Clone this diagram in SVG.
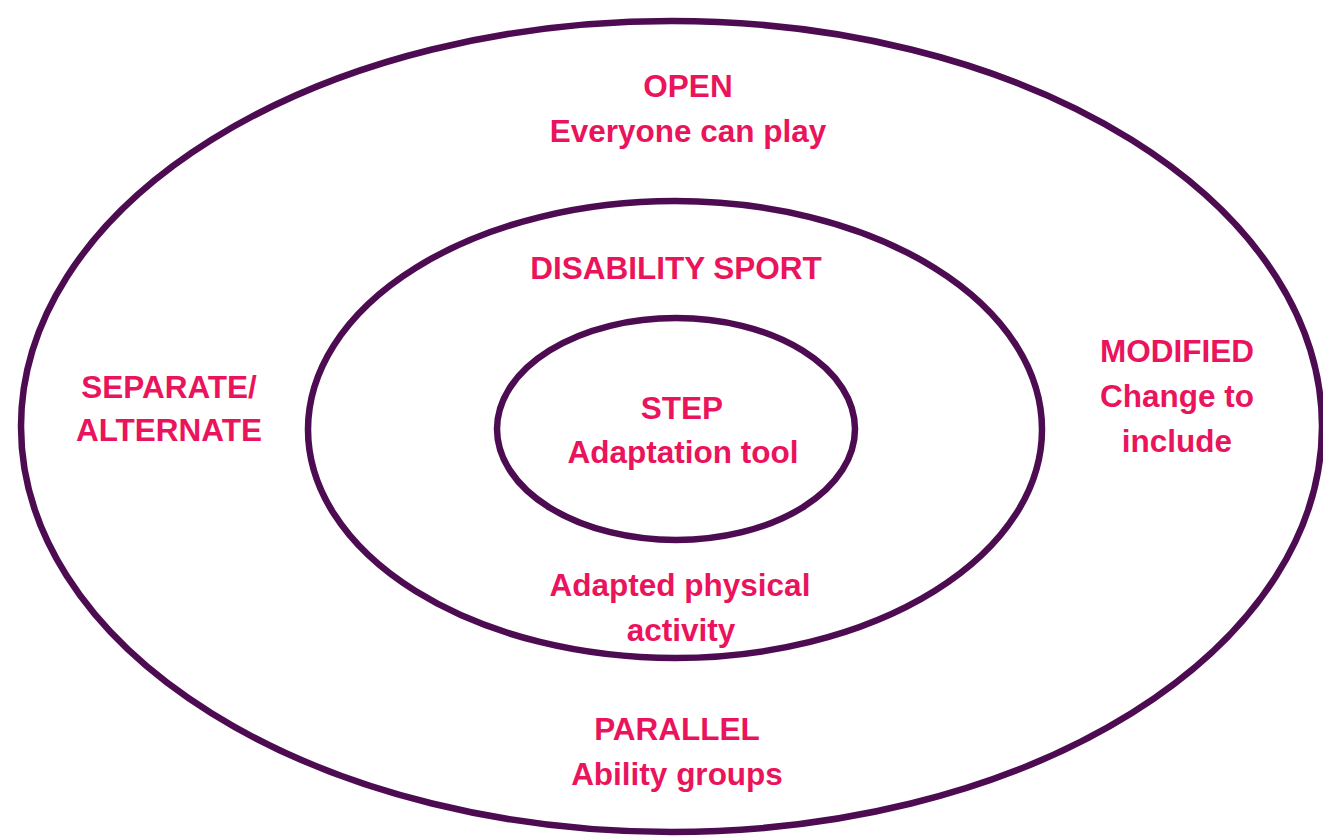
<svg xmlns="http://www.w3.org/2000/svg" width="1323" height="837" viewBox="0 0 1323 837">
<style>
.ring{fill:none;stroke:#4d0c52;stroke-width:6.5}
.t{font-family:"Liberation Sans",Arial,sans-serif;font-weight:bold;font-size:31.5px;fill:#ea145c;text-anchor:middle}
</style>
<rect width="1323" height="837" fill="#ffffff"/>
<g id="outer">
<ellipse class="ring" cx="671.5" cy="426.5" rx="650.5" ry="405.5"/>
<text class="t" x="688" y="97">OPEN</text>
<text class="t" x="688" y="142">Everyone can play</text>
<text class="t" x="169" y="398">SEPARATE/</text>
<text class="t" x="169" y="441">ALTERNATE</text>
<text class="t" x="1177" y="362">MODIFIED</text>
<text class="t" x="1177" y="407">Change to</text>
<text class="t" x="1177" y="452">include</text>
<text class="t" x="677" y="740">PARALLEL</text>
<text class="t" x="677" y="785">Ability groups</text>
</g>
<g id="middle">
<ellipse class="ring" cx="675" cy="429.5" rx="367" ry="228.5"/>
<text class="t" x="676" y="279">DISABILITY SPORT</text>
<text class="t" x="680" y="596">Adapted physical</text>
<text class="t" x="681" y="641">activity</text>
</g>
<g id="inner">
<ellipse class="ring" cx="676" cy="429" rx="179" ry="111"/>
<text class="t" x="682" y="419">STEP</text>
<text class="t" x="683" y="463">Adaptation tool</text>
</g>
<g id="connectors"/>
</svg>
